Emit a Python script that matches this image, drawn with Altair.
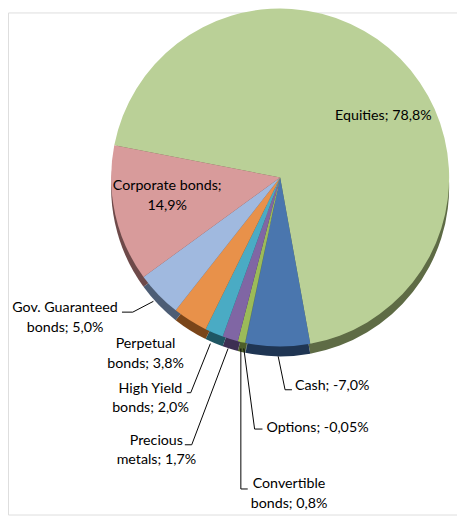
import altair as alt
import pandas as pd
import math

# ---- data ----
names = ["Equities", "Cash", "Options", "Convertible bonds", "Precious metals",
         "High Yield bonds", "Perpetual bonds", "Gov. Guaranteed bonds", "Corporate bonds"]
values = [78.8, -7.0, -0.05, 0.8, 1.7, 2.0, 3.8, 5.0, 14.9]
labels = ["Equities; 78,8%", "Cash; -7,0%", "Options; -0,05%", "Convertible\nbonds; 0,8%",
          "Precious\nmetals; 1,7%", "High Yield\nbonds; 2,0%", "Perpetual\nbonds; 3,8%",
          "Gov. Guaranteed\nbonds; 5,0%", "Corporate bonds;\n14,9%"]
top_colors = ["#bad097", "#4a76ae", "#4f81bd", "#9bbb59", "#8066a4",
              "#4aabc4", "#e8914a", "#a0b9df", "#d89b9b"]
side_colors = ["#5e6b45", "#1f3553", "#203858", "#4d5e2a", "#3d2f52",
               "#1f5663", "#7a4519", "#4d5d75", "#6e4a4a"]

# ---- layout (chart pixel coords) ----
label_x = [382, 292, 263, 286, 151, 145, 140, 58, 162]
label_y = [105, 380, 423, 480, 436, 383, 338, 301, 177]
label_align = ["center", "left", "left", "center", "center", "center", "center", "center", "center"]

seg_x = [116, 127, 182, 186, 180, 187, 237, 237, 240, 251, 275, 282]
seg_y = [305, 305, 387, 387, 440, 440, 342, 485, 342, 424, 350, 384]
seg_x2 = [127, 148, 186, 206, 187, 224, 237, 244, 251, 259, 282, 289]
seg_y2 = [305, 294, 387, 337, 440, 342, 485, 485, 424, 424, 384, 384]

df = pd.DataFrame({
    "name": names,
    "value": values,
    "idx": list(range(len(names))),
})
df["absval"] = df["value"].abs()

lab = pd.DataFrame({"text": labels, "x": label_x, "y": label_y, "align": label_align})
segs = pd.DataFrame({"x": seg_x, "y": seg_y, "x2": seg_x2, "y2": seg_y2})

start = math.radians(281)
theta_scale = alt.Scale(range=[start, start + 2 * math.pi])

CX, CY, R = 277, 168, 172


def pie(colors, dy, opacity=1.0):
    return alt.Chart(df).mark_arc(radius=R, strokeWidth=0, opacity=opacity).encode(
        theta=alt.Theta("absval:Q", stack=True, scale=theta_scale),
        order=alt.Order("idx:Q"),
        color=alt.Color("name:N", scale=alt.Scale(domain=names, range=colors), legend=None),
        x=alt.value(CX), y=alt.value(CY + dy),
    )


side = pie(side_colors, 10)
top = pie(top_colors, 0)
pies = alt.layer(side, top).resolve_scale(color="independent")

lines = alt.Chart(segs).mark_rule(color="#000000", strokeWidth=1).encode(
    x=alt.X("x:Q", scale=None), y=alt.Y("y:Q", scale=None),
    x2="x2:Q", y2="y2:Q",
)

texts = []
for a in ["center", "left"]:
    texts.append(
        alt.Chart(lab[lab["align"] == a]).mark_text(
            font="Lato", fontSize=14.5, color="#000000", align=a, baseline="middle",
            lineBreak="\n", lineHeight=20,
        ).encode(
            x=alt.X("x:Q", scale=None), y=alt.Y("y:Q", scale=None), text="text:N",
        )
    )

chart = alt.layer(pies, lines, *texts).resolve_scale(color="independent").properties(
    width=457, height=511, autosize=alt.AutoSizeParams(type="none"), padding=0,
).configure_view(strokeWidth=0, stroke="transparent").configure(background="#ffffff")

chart.save("out.html", embed_options={"renderer": "svg", "actions": False})
